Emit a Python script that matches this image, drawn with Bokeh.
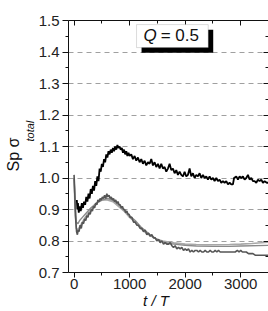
from bokeh.plotting import figure
from bokeh.models import LinearAxis, Label, BoxAnnotation, FixedTicker, Grid, Title
from bokeh.embed import file_html
from bokeh.resources import INLINE

# ---------------- data ----------------
t_black = [50, 60, 70, 85, 100, 120, 140, 160, 180, 200, 220, 240, 260, 280, 300, 320, 340, 360, 380, 400,
           420, 440, 460, 480, 500, 520, 540, 560, 580, 600, 620, 640, 660, 680, 700, 720, 740, 760, 780, 800,
           820, 840, 860, 880, 900, 920, 940, 960, 980, 1000, 1030, 1060, 1090, 1120, 1150, 1180, 1210, 1240,
           1270, 1300, 1330, 1360, 1390, 1420, 1450, 1480, 1510, 1540, 1570, 1600, 1630, 1660, 1690, 1720,
           1750, 1780, 1810, 1840, 1870, 1900, 1930, 1960, 1990, 2020, 2050, 2080, 2110, 2140, 2170, 2200,
           2230, 2260, 2290, 2320, 2350, 2380, 2410, 2440, 2470, 2500, 2530, 2560, 2590, 2620, 2650, 2680,
           2710, 2740, 2770, 2800, 2830, 2860, 2880, 2920, 2950, 2980, 3010, 3040, 3070, 3100, 3130, 3160,
           3190, 3220, 3250, 3280, 3310, 3340, 3370, 3400, 3430, 3470, 3500]
y_black = [0.93, 0.90, 0.92, 0.89, 0.91, 0.895, 0.92, 0.905, 0.925, 0.915, 0.94, 0.925, 0.95, 0.935, 0.965, 0.95, 0.975, 0.96, 0.99, 0.975,
           1.005, 0.99, 1.03, 1.02, 1.045, 1.035, 1.06, 1.05, 1.075, 1.065, 1.085, 1.075, 1.09, 1.08, 1.095, 1.085, 1.10, 1.09, 1.105, 1.095,
           1.10, 1.09, 1.095, 1.08, 1.09, 1.075, 1.085, 1.07, 1.08, 1.07, 1.075, 1.06, 1.07, 1.055, 1.065, 1.05, 1.06, 1.045,
           1.055, 1.04, 1.05, 1.045, 1.06, 1.04, 1.05, 1.035, 1.045, 1.03, 1.045, 1.03, 1.035, 1.02, 1.03, 1.045,
           1.025, 1.03, 1.015, 1.025, 1.01, 1.02, 1.01, 1.005, 1.02, 1.005, 1.01, 1.03, 1.005, 1.015, 1.0, 1.01,
           1.005, 1.015, 1.0, 1.01, 1.0, 1.005, 0.995, 1.005, 0.995, 1.0, 0.99, 1.0, 0.99, 0.995, 0.985, 0.99,
           0.985, 0.99, 0.98, 0.985, 0.98, 0.98, 1.0, 1.005, 0.995, 1.005, 1.0, 1.005, 0.995, 1.0, 1.01, 0.995,
           1.0, 0.99, 0.99, 0.985, 0.995, 0.99, 0.995, 0.985, 0.99, 0.985, 0.985]

t_dark = [0, 10, 25, 45, 60, 75, 90, 110, 130, 150, 170, 190, 210, 230, 250, 270, 290, 310, 330, 350,
          370, 390, 410, 430, 450, 470, 490, 510, 530, 550, 570, 590, 610, 630, 650, 670, 690, 710, 730, 750,
          770, 790, 810, 830, 850, 870, 890, 910, 930, 950, 970, 990, 1010, 1040, 1070, 1100, 1130, 1160, 1190,
          1220, 1250, 1280, 1310, 1340, 1370, 1400, 1430, 1460, 1490, 1520, 1550, 1580, 1610, 1640, 1670, 1700,
          1730, 1760, 1790, 1820, 1850, 1880, 1910, 1940, 1970, 2000, 2030, 2060, 2090, 2120, 2150, 2180, 2210,
          2240, 2270, 2300, 2330, 2360, 2390, 2420, 2450, 2480, 2510, 2540, 2570, 2600, 2630, 2660, 2700, 2740,
          2780, 2820, 2860, 2900, 2940, 2970, 3000, 3030, 3060, 3100, 3140, 3180, 3220, 3260, 3300, 3350, 3400,
          3450, 3500]
y_dark = [1.01, 0.97, 0.88, 0.83, 0.82, 0.835, 0.83, 0.85, 0.84, 0.86, 0.855, 0.87, 0.865, 0.88, 0.875, 0.89, 0.885, 0.90, 0.895, 0.91,
          0.905, 0.92, 0.915, 0.93, 0.925, 0.935, 0.93, 0.94, 0.935, 0.945, 0.935, 0.95, 0.94, 0.945, 0.935, 0.94, 0.93, 0.935, 0.925, 0.93,
          0.92, 0.925, 0.915, 0.915, 0.905, 0.91, 0.90, 0.90, 0.89, 0.895, 0.885, 0.885, 0.875, 0.875, 0.86, 0.86, 0.85, 0.85, 0.84,
          0.84, 0.83, 0.835, 0.82, 0.825, 0.815, 0.82, 0.81, 0.81, 0.80, 0.805, 0.795, 0.80, 0.79, 0.795, 0.79, 0.79,
          0.795, 0.785, 0.78, 0.785, 0.775, 0.78, 0.775, 0.78, 0.77, 0.775, 0.77, 0.775, 0.765, 0.77, 0.765, 0.77, 0.77,
          0.765, 0.77, 0.765, 0.765, 0.77, 0.765, 0.765, 0.77, 0.765, 0.765, 0.77, 0.765, 0.77, 0.765, 0.765, 0.765, 0.765,
          0.765, 0.765, 0.765, 0.765, 0.77, 0.765, 0.77, 0.765, 0.765, 0.765, 0.76, 0.76, 0.76, 0.755, 0.755, 0.755, 0.755,
          0.755, 0.755]

t_mid = [0, 15, 40, 70, 100, 150, 200, 300, 400, 500, 600, 700, 800, 900, 1000, 1100, 1200, 1300, 1400,
         1500, 1600, 1700, 1800, 2000, 2200, 2500, 2800, 3000, 3500]
y_mid = [1.0, 0.93, 0.86, 0.855, 0.865, 0.875, 0.885, 0.905, 0.92, 0.93, 0.935, 0.93, 0.915, 0.90, 0.88, 0.865, 0.845, 0.83, 0.815,
         0.805, 0.797, 0.792, 0.79, 0.786, 0.784, 0.783, 0.783, 0.784, 0.786]

t_light = [0, 15, 40, 70, 100, 150, 200, 300, 400, 500, 600, 700, 800, 900, 1000, 1100, 1200, 1300, 1400,
           1500, 1600, 1700, 1800, 2000, 2200, 2500, 2800, 3000, 3200, 3500]
y_light = [1.0, 0.92, 0.84, 0.835, 0.845, 0.86, 0.875, 0.90, 0.92, 0.93, 0.93, 0.925, 0.91, 0.895, 0.875, 0.86, 0.84, 0.825, 0.815,
           0.805, 0.80, 0.797, 0.794, 0.79, 0.789, 0.788, 0.789, 0.79, 0.792, 0.796]

x_ticks = [0, 1000, 2000, 3000]
y_ticks = [0.7, 0.8, 0.9, 1.0, 1.1, 1.2, 1.3, 1.4, 1.5]
y_tick_labels = ["0.7", "0.8", "0.9", "1.0", "1.1", "1.2", "1.3", "1.4", "1.5"]
grid_levels = [0.8, 0.9, 1.0, 1.1, 1.2, 1.3, 1.4]

# ---------------- figure ----------------
FONT = "Liberation Sans"
p = figure(width=268, height=311, x_range=(-100, 3500), y_range=(0.7, 1.5),
           output_backend="svg", toolbar_location=None,
           min_border_left=68, min_border_right=0, min_border_top=20, min_border_bottom=38,
           x_axis_location=None, y_axis_location=None)
p.outline_line_color = None
p.background_fill_color = "white"
p.xgrid.visible = False
p.ygrid.visible = False


def style_axis(ax, ticks, labels=None, inside=False):
    step = ticks[1] - ticks[0]
    ax.ticker = FixedTicker(ticks=ticks, minor_ticks=[t + step / 2 for t in ticks] + [ticks[0] - step / 2])
    ax.axis_line_color = "#111111"
    ax.axis_line_width = 1
    ax.major_tick_line_color = "#111111"
    ax.minor_tick_line_color = "#111111"
    if inside:
        ax.major_tick_in, ax.major_tick_out = 5, 0
        ax.minor_tick_in, ax.minor_tick_out = 3, 0
        ax.major_label_overrides = {t: "" for t in ticks}
        ax.major_label_text_font_size = "1px"
        ax.major_label_standoff = 0
    else:
        ax.major_tick_in, ax.major_tick_out = 0, 6
        ax.minor_tick_in, ax.minor_tick_out = 0, 3
        if labels is not None:
            ax.major_label_overrides = {t: s for t, s in zip(ticks, labels)}
        ax.major_label_text_font = FONT
        ax.major_label_text_font_size = "15px"
        ax.major_label_text_color = "#222222"
        ax.major_label_standoff = 3


xb = LinearAxis(); style_axis(xb, x_ticks)
xt = LinearAxis(); style_axis(xt, x_ticks, inside=True)
yl = LinearAxis(); style_axis(yl, y_ticks, labels=y_tick_labels)
yr = LinearAxis(); style_axis(yr, y_ticks, inside=True)
xb.major_tick_out = 5
xb.major_label_standoff = 1
xb.axis_label = "t / T\u2007\u2007\u2007"
xb.axis_label_text_font = FONT
xb.axis_label_text_font_style = "italic"
xb.axis_label_text_font_size = "15px"
xb.axis_label_text_color = "#111111"
xb.axis_label_standoff = 0
p.add_layout(xb, "below")
p.add_layout(xt, "above")
p.add_layout(yl, "left")
p.add_layout(yr, "right")

g = Grid(dimension=1, ticker=FixedTicker(ticks=grid_levels),
         grid_line_color="#a0a0a0", grid_line_dash="5 4", grid_line_width=1)
p.add_layout(g, "center")

# ---------------- lines ----------------
p.line(t_light, y_light, line_color="#a8a8a8", line_width=1.6)
p.line(t_mid, y_mid, line_color="#8a8a8a", line_width=1.4)
p.line(t_dark, y_dark, line_color="#555555", line_width=1.6)
p.line(t_black, y_black, line_color="#000000", line_width=1.8)

# ---------------- legend-like box ----------------
p.add_layout(BoxAnnotation(left=1215, right=2505, bottom=1.398, top=1.471,
                           fill_color="black", fill_alpha=1, line_color=None, level="overlay"))
p.add_layout(BoxAnnotation(left=1125, right=2415, bottom=1.414, top=1.487,
                           fill_color="white", fill_alpha=1, line_color="#888888", line_width=1, level="overlay"))
p.add_layout(Label(x=1250, y=1.451, text="Q", text_font=FONT, text_font_style="italic",
                   text_font_size="17px", text_baseline="middle", text_color="#111111", level="overlay"))
p.add_layout(Label(x=1560, y=1.451, text="= 0.5", text_font=FONT,
                   text_font_size="17px", text_baseline="middle", text_color="#111111", level="overlay"))

# ---------------- y axis title ----------------
p.add_layout(Title(text="total", text_font=FONT, text_font_style="italic", text_font_size="11px",
                   text_color="#111111", align="left", offset=131, standoff=0), "left")
p.add_layout(Title(text="Sp σ", text_font=FONT, text_font_style="normal", text_font_size="16px",
                   text_color="#111111", align="left", offset=101, standoff=0), "left")

open("out.html", "w").write(file_html(p, INLINE))
